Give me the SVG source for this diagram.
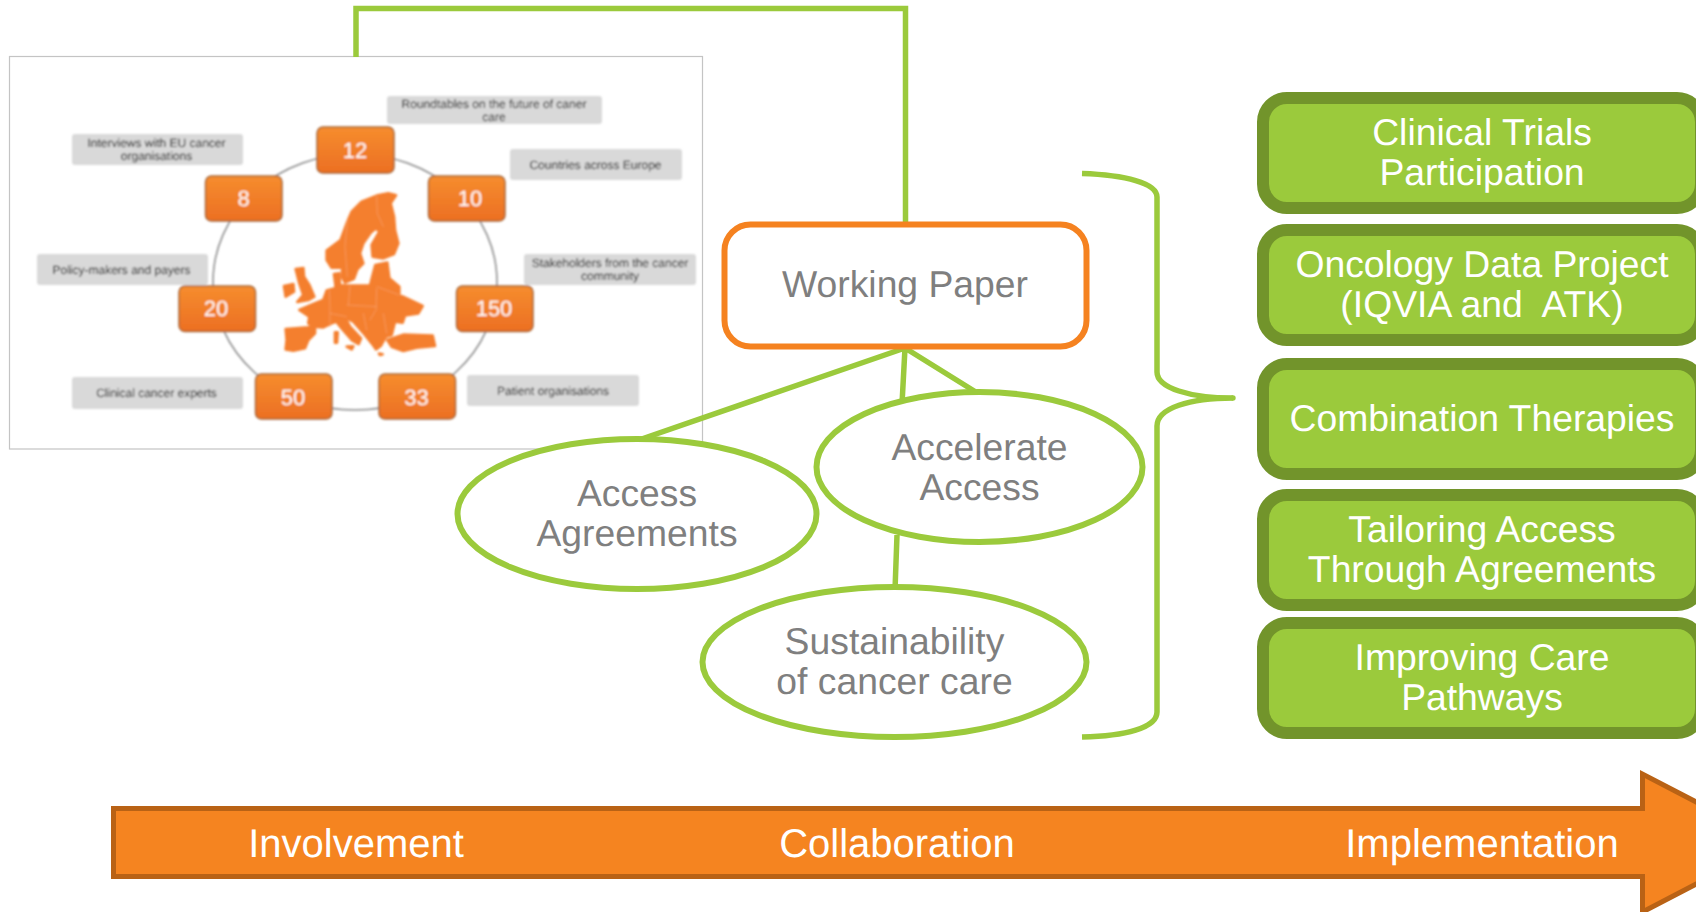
<svg xmlns="http://www.w3.org/2000/svg" width="1696" height="912" viewBox="0 0 1696 912">
<style>
text{font-family:"Liberation Sans",Arial,sans-serif;text-anchor:middle;text-rendering:geometricPrecision;white-space:pre}
.ln{fill:none;stroke:#9bca3c;stroke-width:5.500}
.el{fill:#fff;stroke:#9bca3c;stroke-width:6}
.gb{fill:#9bca3c;stroke:#72942b;stroke-width:12}
.wt{fill:#fff;font-size:37.300px}
.at{fill:#fff;font-size:40px}
.gt{fill:#7f7f7f;font-size:37.300px}
.pb{fill:url(#og);stroke:#a8683a;stroke-width:1.500}
.pn{fill:#fff;font-size:22px}
.pl{fill:#d9d9d9}
.pt{fill:#111;font-size:12px}
.eu{fill:#f47f2f;stroke:#f47f2f;stroke-width:8;stroke-linejoin:round}
</style>
<defs>
<linearGradient id="og" x1="0" y1="0" x2="0" y2="1"><stop offset="0" stop-color="#f68d2e"/><stop offset="1" stop-color="#ec6f23"/></linearGradient>
<filter id="bl" x="-2%" y="-2%" width="104%" height="104%"><feGaussianBlur stdDeviation="0.8"/></filter>
</defs>
<g id="photo">
<rect x="9.500" y="56.500" width="693" height="392.500" fill="#fff" stroke="#c4c4c4" stroke-width="1.200"/>
<g filter="url(#bl)">
<ellipse cx="355" cy="282" rx="142" ry="128" fill="none" stroke="#8a8a8a" stroke-width="1.500"/>
<g id="map" transform="translate(270 180) scale(.3333)">
<path class="eu" d="M170 212L212 180L232 125L245 95L275 65L320 47L355 40L378 46L362 70L372 110L375 150L385 190L372 222L340 235L308 230L305 195L328 155L318 145L302 158L280 190L270 220L280 250L262 268L252 296L225 308L215 290L217 262L185 263L170 240Z"/>
<path class="eu" d="M170 332L195 325L200 316L240 317L300 317L308 285L316 255L352 248L358 295L388 320L388 345L420 360L458 378L445 400L405 406L398 428L375 425L365 465L348 470L332 498L318 508L305 490L285 465L250 425L232 416L215 418L190 428L160 442L130 440L115 430L118 410L88 390L130 372L160 360Z"/>
<path class="eu" d="M195 420L225 412L240 440L273 475L266 492L245 480L215 445Z"/>
<path class="eu" d="M47 447L115 442L135 438L135 460L115 480L105 505L70 512L47 508L50 480Z"/>
<path class="eu" d="M352 480L400 464L488 467L495 498L440 503L400 513L365 500Z"/>
<path class="eu" d="M77 267L100 264L102 290L118 315L133 350L115 360L82 366L100 345L88 310Z"/>
<path class="eu" d="M42 318L70 312L72 335L47 350Z"/>
<path class="eu" d="M192 282L208 280L210 318L197 320Z"/>
<path class="eu" d="M230 500L250 499L245 508ZM195 457L203 457L201 488L195 488ZM327 521L338 523L330 525Z"/>
<path fill="none" stroke="#f9a56c" stroke-width="2" d="M232 120L225 200L232 290M320 47L322 100L340 140M178 330L180 380L180 440M240 317L235 375M320 325L318 390L300 420M230 375L320 380M180 400L230 410M280 400L290 450M340 400L350 460M320 320L388 345"/>
</g>
<g id="stat-12"><rect class="pb" x="317" y="127" width="77" height="46" rx="6"/><text class="pn" x="355" y="158">12</text></g>
<g id="stat-8"><rect class="pb" x="205.500" y="176" width="76.500" height="45" rx="6"/><text class="pn" x="243.500" y="206">8</text></g>
<g id="stat-10"><rect class="pb" x="428.500" y="176" width="76.500" height="45" rx="6"/><text class="pn" x="470" y="206">10</text></g>
<g id="stat-20"><rect class="pb" x="179" y="286" width="76.500" height="45.500" rx="6"/><text class="pn" x="216" y="316">20</text></g>
<g id="stat-150"><rect class="pb" x="456.500" y="286" width="76.500" height="45.500" rx="6"/><text class="pn" x="494" y="316">150</text></g>
<g id="stat-50"><rect class="pb" x="255.500" y="374" width="76.500" height="45" rx="6"/><text class="pn" x="293" y="405">50</text></g>
<g id="stat-33"><rect class="pb" x="379" y="374" width="76.500" height="45" rx="6"/><text class="pn" x="416.500" y="405">33</text></g>
<g id="label-roundtables"><rect class="pl" x="387" y="96" width="215" height="28" rx="3"/><text class="pt" x="494" y="108">Roundtables on the future of caner</text><text class="pt" x="494" y="121">care</text></g>
<g id="label-interviews"><rect class="pl" x="72" y="134" width="171" height="31" rx="3"/><text class="pt" x="156.500" y="147">Interviews with EU cancer</text><text class="pt" x="156.500" y="160">organisations</text></g>
<g id="label-countries"><rect class="pl" x="510" y="149" width="172" height="31" rx="3"/><text class="pt" x="595.500" y="169">Countries across Europe</text></g>
<g id="label-policy"><rect class="pl" x="37" y="254" width="171" height="31" rx="3"/><text class="pt" x="121.500" y="274">Policy-makers and payers</text></g>
<g id="label-stakeholders"><rect class="pl" x="524" y="254" width="172" height="31" rx="3"/><text class="pt" x="610" y="267">Stakeholders from the cancer</text><text class="pt" x="610" y="280">community</text></g>
<g id="label-clinical"><rect class="pl" x="72" y="377" width="171" height="32" rx="3"/><text class="pt" x="156.500" y="397">Clinical cancer experts</text></g>
<g id="label-patient"><rect class="pl" x="467" y="375" width="172" height="31" rx="3"/><text class="pt" x="553" y="395">Patient organisations</text></g>
</g>
</g>
<g id="connectors">
<path class="ln" d="M356 57V8.500H905.500V222"/>
<path class="ln" d="M905 348L633 442M905 348L902 404M905 348L979 394M897 535L895 590"/>
<path class="ln" d="M1082 173.500C1125 175 1157 183 1157 197V372C1157 388 1190 398 1233 398C1190 398 1157 408 1157 426V712C1157 728 1125 736 1082 737"/>
<circle cx="1233" cy="398" r="2.700" fill="#9bca3c"/>
</g>
<g id="working-paper"><rect x="724.500" y="224.500" width="362" height="122" rx="26" fill="#fff" stroke="#f58220" stroke-width="6"/><text class="gt" x="905" y="297">Working Paper</text></g>
<g id="access-agreements"><ellipse class="el" cx="637" cy="514" rx="179.500" ry="75"/><text class="gt" x="637" y="506">Access</text><text class="gt" x="637" y="546">Agreements</text></g>
<g id="accelerate-access"><ellipse class="el" cx="979.500" cy="467" rx="163" ry="75"/><text class="gt" x="979.500" y="460">Accelerate</text><text class="gt" x="979.500" y="500">Access</text></g>
<g id="sustainability"><ellipse class="el" cx="894.500" cy="662" rx="192" ry="75"/><text class="gt" x="894.500" y="654">Sustainability</text><text class="gt" x="894.500" y="694">of cancer care</text></g>
<g id="clinical-trials"><rect class="gb" x="1263" y="98" width="438" height="110" rx="24"/><text class="wt" x="1482" y="145">Clinical Trials</text><text class="wt" x="1482" y="185">Participation</text></g>
<g id="oncology-data"><rect class="gb" x="1263" y="230" width="438" height="110" rx="24"/><text class="wt" x="1482" y="277">Oncology Data Project</text><text class="wt" x="1482" y="317">(IQVIA and  ATK)</text></g>
<g id="combination"><rect class="gb" x="1263" y="364" width="438" height="110" rx="24"/><text class="wt" x="1482" y="431">Combination Therapies</text></g>
<g id="tailoring"><rect class="gb" x="1263" y="495" width="438" height="110" rx="24"/><text class="wt" x="1482" y="542">Tailoring Access</text><text class="wt" x="1482" y="582">Through Agreements</text></g>
<g id="improving"><rect class="gb" x="1263" y="623" width="438" height="110" rx="24"/><text class="wt" x="1482" y="670">Improving Care</text><text class="wt" x="1482" y="710">Pathways</text></g>
<g id="arrow"><path d="M113.500 808.500H1642.500V774L1775 843L1642.500 912V876.500H113.500Z" fill="#f58420" stroke="#b96215" stroke-width="5"/>
<text class="at" x="356" y="857">Involvement</text><text class="at" x="897" y="857">Collaboration</text><text class="at" x="1482" y="857">Implementation</text></g>
</svg>
